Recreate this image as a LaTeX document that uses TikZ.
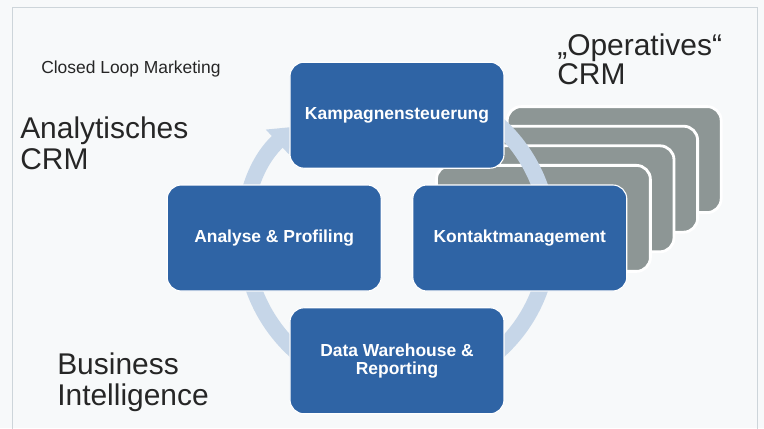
\documentclass[tikz,border=0pt]{standalone}
\usepackage{fontspec}
\setmainfont{Liberation Sans}
\usepackage{tikz}
\usetikzlibrary{shapes.geometric, arrows.meta}
\usetikzlibrary{positioning}

\definecolor{stageblue}{RGB}{47,100,165}
\definecolor{channelgray}{RGB}{141,150,149}
\definecolor{ringblue}{RGB}{198,214,232}
\definecolor{paper}{RGB}{247,249,250}
\definecolor{framegray}{RGB}{205,213,218}
\definecolor{ink}{RGB}{38,38,38}

\tikzstyle{stage} = [rectangle, rounded corners=0.35cm, minimum width=5.35cm, minimum height=2.65cm, text centered, align=center, draw=white, line width=0.8pt, fill=stageblue, text=white, font=\fontsize{12.4}{13}\selectfont\bfseries]
\tikzstyle{channel} = [rectangle, rounded corners=0.35cm, minimum width=5.35cm, minimum height=2.65cm, draw=white, line width=2pt, fill=channelgray]
\tikzstyle{ring} = [line width=0.4cm, draw=ringblue, -{Triangle[width=0.8cm, length=0.55cm]}]
\tikzstyle{heading} = [anchor=north west, inner sep=0pt, align=left, text=ink, font=\fontsize{21.3}{22}\selectfont]
\tikzstyle{subtitle} = [anchor=base west, inner sep=0pt, text=ink, font=\fontsize{12.4}{14}\selectfont]

\begin{document}
\begin{tikzpicture}[node distance=3.07cm]

        % Page and frame
        \fill [paper] (-9.925,-4.75) rectangle (9.175,5.95);
        \useasboundingbox (-9.925,-4.75) rectangle (9.175,5.95);
        \draw [framegray, line width=0.6pt] (-9.625,-4.8) -- (-9.625,5.775) -- (9.0,5.775) -- (9.0,-4.8);

        \coordinate (hub) at (0,0);

        % Channels stacked behind Kontaktmanagement
        \foreach \k in {4,3,2,1}
            \node (channel\k) [channel] at ([shift={(3.07cm+\k*0.59cm, \k*0.49cm)}]hub) {};

        % Loop
        \draw [ring] ([shift={(120:3.8cm)}]hub) arc[start angle=120, end angle=-227, radius=3.8cm];

        % Nodes
        \node (kampagne) [stage, above of=hub] {Kampagnensteuerung};
        \node (kontakt) [stage, right of=hub] {Kontaktmanagement};
        \node (warehouse) [stage, below of=hub] {Data Warehouse \&\\Reporting};
        \node (analyse) [stage, left of=hub] {Analyse \& Profiling};

        % Labels
        \node (closedloop) [subtitle] at (-8.9,4.125) {Closed Loop Marketing};
        \node (analytisch) [heading] at (-9.425,3.025) {Analytisches\\CRM};
        \node (operativ) [heading, font=\fontsize{21.3}{20}\selectfont] at (4.0,5.1) {„Operatives“\\CRM};
        \node (business) [heading] at (-8.5,-2.875) {Business\\Intelligence};

    \end{tikzpicture}
\end{document}
